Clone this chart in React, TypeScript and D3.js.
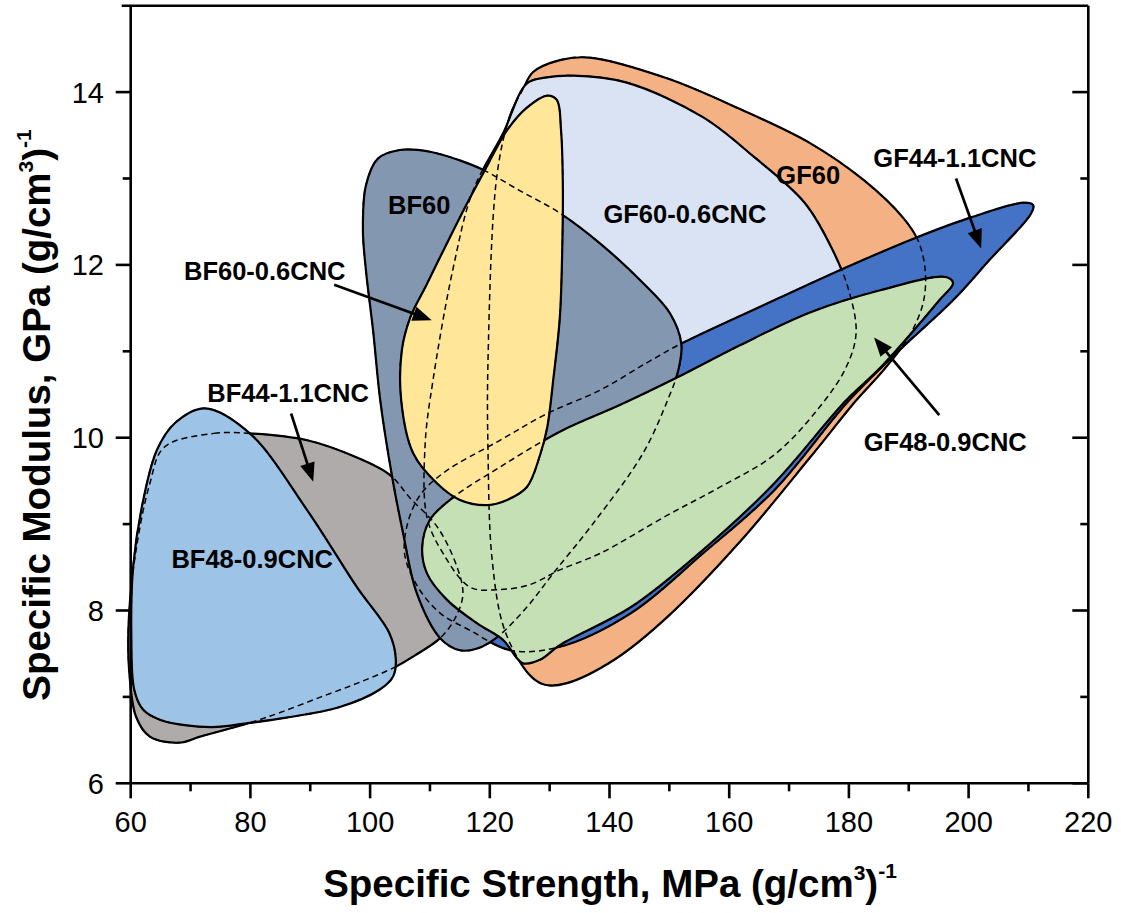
import React, { useEffect } from "react";
import * as d3 from "d3";

// ---------- axis ticks ----------
const xTickValues = [60, 80, 100, 120, 140, 160, 180, 200, 220];
const xMinorValues = [70, 90, 110, 130, 150, 170, 190, 210];
const yTickValues = [6, 8, 10, 12, 14];
const yMinorValues = [7, 9, 11, 13];

// ---------- regions (specific strength, specific modulus) ----------
const gf60: [number, number][] = [
  [125.6, 14.04], [127.2, 14.23], [131.7, 14.37], [136.6, 14.4], [149.6, 14.16], [161.6, 13.81],
  [173.5, 13.41], [182.5, 12.98], [189.0, 12.55], [191.5, 12.29], [192.7, 11.97], [192.5, 11.59],
  [190.2, 11.19], [186.0, 10.8], [181.2, 10.43], [173.5, 9.77], [161.6, 8.78], [149.6, 7.92],
  [140.8, 7.43], [132.9, 7.16], [129.2, 7.14], [126.7, 7.25], [122.5, 7.77], [120.4, 8.58],
  [119.7, 9.85], [119.7, 10.89], [121.2, 13.04], [123.4, 13.73],
];
const gf60cnc: [number, number][] = [
  [126.2, 14.1], [129.5, 14.17], [133.9, 14.19], [142.9, 14.11], [155.6, 13.71], [163.8, 13.27],
  [172.6, 12.72], [177.3, 12.17], [180.0, 11.7], [181.2, 11.21], [179.5, 10.81], [174.7, 10.32],
  [167.5, 9.8], [158.5, 9.43], [149.6, 9.1], [138.4, 8.66], [131.7, 8.47], [126.7, 8.3],
  [121.2, 8.24], [116.7, 8.27], [112.2, 8.66], [109.5, 9.08], [109.2, 9.93], [110.5, 10.66],
  [113.9, 11.97], [117.2, 12.86], [122.2, 13.52],
];
const gf44cnc: [number, number][] = [
  [209.3, 12.72], [210.8, 12.69], [210.4, 12.59], [203.4, 12.05], [197.4, 11.59], [188.4, 11.01],
  [180.0, 10.43], [167.5, 9.39], [155.6, 8.66], [143.6, 7.97], [131.7, 7.58], [123.4, 7.54],
  [116.7, 7.77], [111.7, 7.97], [108.0, 8.27], [105.8, 8.64], [106.2, 8.99], [108.3, 9.33],
  [112.2, 9.59], [121.7, 9.97], [129.6, 10.28], [138.4, 10.55], [146.3, 10.87], [152.0, 11.09],
  [167.5, 11.59], [179.5, 11.97], [191.4, 12.32], [200.4, 12.55],
];
const bf44cnc: [number, number][] = [
  [65.6, 9.89], [73.9, 10.05], [79.9, 10.05], [89.5, 9.97], [97.8, 9.77], [103.3, 9.57],
  [106.7, 9.3], [111.3, 8.96], [114.7, 8.47], [115.5, 8.18], [114.2, 7.91], [111.7, 7.68],
  [107.5, 7.48], [104.3, 7.35], [98.3, 7.17], [91.8, 7.0], [85.0, 6.82], [79.9, 6.7],
  [71.6, 6.54], [68.1, 6.47], [63.2, 6.54], [60.9, 6.77], [59.7, 7.35], [59.7, 7.92],
  [60.9, 8.7], [63.2, 9.47],
];
const bf48cnc: [number, number][] = [
  [72.4, 10.34], [79.9, 10.05], [89.5, 9.16], [97.8, 8.27], [103.2, 7.74], [104.3, 7.43],
  [103.8, 7.23], [101.5, 7.08], [94.8, 6.88], [86.0, 6.76], [79.9, 6.7], [73.4, 6.65],
  [65.1, 6.73], [62.1, 6.85], [60.6, 7.08], [60.1, 7.74], [60.4, 8.5], [62.1, 9.28],
  [64.4, 9.86], [67.4, 10.17],
];
const bf60: [number, number][] = [
  [98.8, 12.4], [99.3, 12.92], [101.3, 13.23], [105.0, 13.33], [110.0, 13.31], [115.0, 13.21],
  [118.9, 13.1], [125.0, 12.86], [131.7, 12.6], [138.4, 12.25], [145.6, 11.79], [150.1, 11.44],
  [152.0, 11.09], [151.5, 10.78], [149.8, 10.45], [145.6, 9.82], [137.3, 9.01], [130.6, 8.43],
  [126.2, 8.04], [121.2, 7.69], [117.9, 7.56], [115.0, 7.54], [111.7, 7.68], [107.8, 8.2],
  [105.5, 8.9], [103.7, 9.54], [101.7, 10.43], [100.5, 11.24], [99.3, 11.94],
];
const gf48cnc: [number, number][] = [
  [196.2, 11.86], [197.4, 11.79], [195.1, 11.59], [185.4, 10.82], [179.5, 10.43], [167.5, 9.47],
  [155.6, 8.7], [143.6, 8.04], [131.7, 7.6], [128.4, 7.43], [125.5, 7.39], [122.2, 7.66],
  [117.9, 7.85], [112.9, 8.12], [109.5, 8.43], [108.7, 8.73], [110.0, 9.05], [113.9, 9.31],
  [121.7, 9.66], [131.7, 10.07], [141.8, 10.38], [151.1, 10.69], [161.8, 11.07], [173.5, 11.45],
  [185.4, 11.71],
];
const bf60cnc: [number, number][] = [
  [129.6, 13.96], [131.2, 13.91], [131.9, 13.56], [132.2, 12.94], [132.1, 12.17], [131.7, 11.39],
  [130.6, 10.67], [129.6, 10.12], [128.4, 9.8], [126.2, 9.43], [122.9, 9.28], [119.5, 9.22],
  [115.0, 9.28], [111.2, 9.47], [107.2, 9.82], [105.2, 10.43], [105.3, 11.01], [106.7, 11.39],
  [109.5, 11.78], [115.0, 12.55], [118.9, 13.06], [122.9, 13.56], [126.2, 13.82],
];

// drawing order (bottom -> top)
const regionNames = ["GF60", "GF60-0.6CNC", "GF44-1.1CNC", "BF44-1.1CNC", "BF48-0.9CNC", "BF60", "GF48-0.9CNC", "BF60-0.6CNC"];
const regionPoints = [gf60, gf60cnc, gf44cnc, bf44cnc, bf48cnc, bf60, gf48cnc, bf60cnc];
const regionColors = ["#f4b183", "#dae3f3", "#4472c4", "#afabab", "#9dc3e6", "#8497b0", "#c5e0b4", "#ffe699"];

// annotation labels (anchor in data units, baseline)
const labelTexts = ["BF60", "BF60-0.6CNC", "BF44-1.1CNC", "BF48-0.9CNC", "GF60", "GF60-0.6CNC", "GF44-1.1CNC", "GF48-0.9CNC"];
const labelX = [108.2, 82.4, 86.3, 80.3, 173.2, 152.6, 197.7, 196.1];
const labelY = [12.59, 11.82, 10.41, 8.49, 12.94, 12.49, 13.13, 9.85];

// arrows: from -> to (data units)
const arrowFrom: [number, number][] = [[94.0, 11.77], [86.8, 10.28], [197.9, 13.0], [195.1, 10.26]];
const arrowTo: [number, number][] = [[110.3, 11.36], [90.5, 9.49], [202.1, 12.19], [184.2, 11.16]];

const FONT = "'Liberation Sans', Arial, Helvetica, sans-serif";

export default function App() {
  useEffect(() => {
    document.body.style.margin = "0";
  }, []);
  const W = 1121;
  const H = 913;
  const L = 130.7, R = 1088.3, T = 5.7, B = 783.3;
  const x = d3.scaleLinear().domain([60, 220]).range([L, R]);
  const y = d3.scaleLinear().domain([6, 15]).range([B, T]);
  const line = d3
    .line<[number, number]>()
    .x((d) => x(d[0]))
    .y((d) => y(d[1]))
    .curve(d3.curveCatmullRomClosed.alpha(0.5));

  const paths = regionPoints.map((pts) => line(pts) || "");

  const arrows = arrowFrom.map((f, i) => {
    const x1 = x(f[0]), y1 = y(f[1]);
    const x2 = x(arrowTo[i][0]), y2 = y(arrowTo[i][1]);
    const dx = x2 - x1, dy = y2 - y1;
    const len = Math.hypot(dx, dy);
    const ux = dx / len, uy = dy / len;
    const hl = 19, hw = 7.5;
    const bx = x2 - ux * hl, by = y2 - uy * hl;
    const nx = -uy, ny = ux;
    return {
      x1, y1, lx: bx + ux * 3, ly: by + uy * 3,
      head: `${x2},${y2} ${bx + nx * hw},${by + ny * hw} ${bx - nx * hw},${by - ny * hw}`,
    };
  });

  const sw = 2.6;
  return (
    <svg width={W} height={H} style={{ display: "block", background: "#fff" }} fontFamily={FONT}>
      <rect x={0} y={0} width={W} height={H} fill="#fff" />
      {/* filled regions */}
      {paths.map((d, i) => (
        <path key={"r" + i} d={d} fill={regionColors[i]} stroke="#000" strokeWidth={2.2} strokeLinejoin="round">
          <title>{regionNames[i]}</title>
        </path>
      ))}
      {/* hidden outlines (dashed) */}
      {paths.map((d, i) => (
        <path key={"d" + i} d={d} fill="none" stroke="#000" strokeWidth={1.5} strokeDasharray="6 4" />
      ))}
      {/* arrows */}
      {arrows.map((a, i) => (
        <g key={"a" + i}>
          <line x1={a.x1} y1={a.y1} x2={a.lx} y2={a.ly} stroke="#000" strokeWidth={2.7} />
          <polygon points={a.head} fill="#000" />
        </g>
      ))}
      {/* labels */}
      {labelTexts.map((t, i) => (
        <text key={"l" + i} x={x(labelX[i])} y={y(labelY[i])} textAnchor="middle" fontSize={25.5} fontWeight="bold" fill="#000">
          {t}
        </text>
      ))}
      {/* frame */}
      <line x1={L - 9} y1={T} x2={R} y2={T} stroke="#000" strokeWidth={sw} />
      <line x1={L} y1={T} x2={L} y2={B} stroke="#000" strokeWidth={sw} />
      <line x1={R} y1={T} x2={R} y2={B} stroke="#000" strokeWidth={sw} />
      <line x1={L} y1={B} x2={R} y2={B} stroke="#000" strokeWidth={sw} />
      {/* bottom ticks */}
      {xTickValues.map((v) => (
        <g key={"xt" + v}>
          <line x1={x(v)} x2={x(v)} y1={B} y2={B + 15} stroke="#000" strokeWidth={sw} />
          <text x={x(v)} y={832} textAnchor="middle" fontSize={29} fill="#000">{v}</text>
        </g>
      ))}
      {xMinorValues.map((v) => (
        <line key={"xm" + v} x1={x(v)} x2={x(v)} y1={B} y2={B + 8} stroke="#000" strokeWidth={sw} />
      ))}
      {/* left / right ticks */}
      {yTickValues.map((v) => (
        <g key={"yt" + v}>
          <line x1={L - 15} x2={L} y1={y(v)} y2={y(v)} stroke="#000" strokeWidth={sw} />
          <line x1={R - 16} x2={R} y1={y(v)} y2={y(v)} stroke="#000" strokeWidth={sw} />
          <text x={104} y={y(v) + 10.5} textAnchor="end" fontSize={29} fill="#000">{v}</text>
        </g>
      ))}
      {yMinorValues.map((v) => (
        <g key={"ym" + v}>
          <line x1={L - 8} x2={L} y1={y(v)} y2={y(v)} stroke="#000" strokeWidth={sw} />
          <line x1={R - 8} x2={R} y1={y(v)} y2={y(v)} stroke="#000" strokeWidth={sw} />
        </g>
      ))}
      {/* axis titles */}
      <text x={610} y={897} textAnchor="middle" fontSize={38.5} fontWeight="bold" fill="#000">
        Specific Strength, MPa (g/cm<tspan dy={-17} fontSize={21}>3</tspan>
        <tspan dy={17}>)</tspan>
        <tspan dy={-19} fontSize={21}>-1</tspan>
      </text>
      <text transform="translate(50,415) rotate(-90)" textAnchor="middle" fontSize={38.5} fontWeight="bold" fill="#000">
        Specific Modulus, GPa (g/cm<tspan dy={-17} fontSize={21}>3</tspan>
        <tspan dy={17}>)</tspan>
        <tspan dy={-19} fontSize={21}>-1</tspan>
      </text>
    </svg>
  );
}
